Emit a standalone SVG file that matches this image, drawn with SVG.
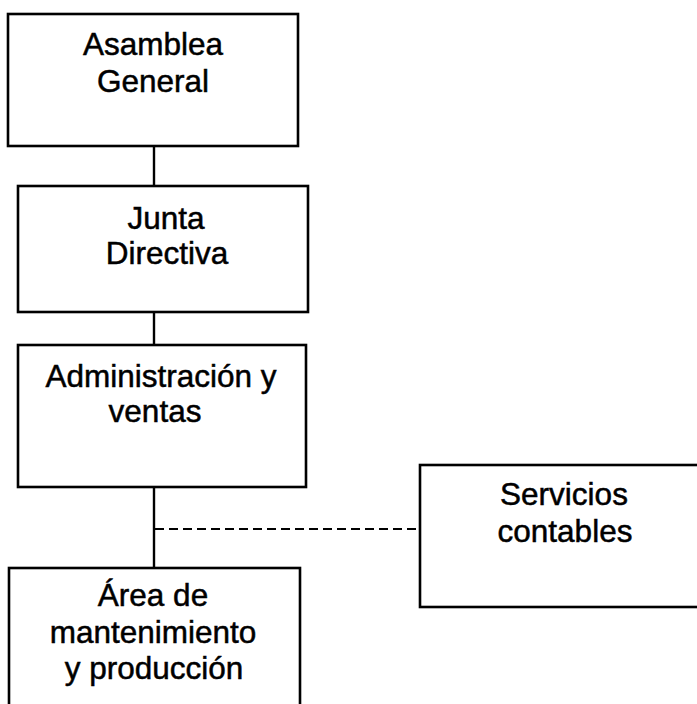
<svg xmlns="http://www.w3.org/2000/svg" width="697" height="704" viewBox="0 0 697 704">
<style>
.box{fill:#fff;stroke:#000;stroke-width:2.6}
.t{font-family:"Liberation Sans",Arial,sans-serif;font-size:31.5px;fill:#000;stroke:#000;stroke-width:0.5;text-anchor:middle}
.ln{stroke:#000;stroke-width:2.4;fill:none}
.dash{stroke:#000;stroke-width:2;fill:none;stroke-dasharray:9 5}
</style>
<rect width="697" height="704" fill="#fff"/>
<g id="connectors">
<line class="ln" x1="154" y1="146" x2="154" y2="186"/>
<line class="ln" x1="154" y1="312" x2="154" y2="345"/>
<line class="ln" x1="154" y1="487" x2="154" y2="568"/>
<line class="dash" x1="155" y1="529" x2="420" y2="529"/>
</g>
<g id="asamblea">
<rect class="box" x="8" y="14" width="290" height="132"/>
<text class="t" x="153" y="55">Asamblea</text>
<text class="t" x="153" y="92">General</text>
</g>
<g id="junta">
<rect class="box" x="18" y="186" width="290" height="126"/>
<text class="t" x="166" y="229">Junta</text>
<text class="t" x="167" y="264">Directiva</text>
</g>
<g id="administracion">
<rect class="box" x="18" y="345" width="288" height="142"/>
<text class="t" x="161" y="387">Administración y</text>
<text class="t" x="155" y="422">ventas</text>
</g>
<g id="area">
<rect class="box" x="9" y="568" width="291" height="150"/>
<text class="t" x="153" y="606">Área de</text>
<text class="t" x="153" y="643">mantenimiento</text>
<text class="t" x="154" y="679">y producción</text>
</g>
<g id="servicios">
<rect class="box" x="420" y="465" width="290" height="142"/>
<text class="t" x="564" y="505">Servicios</text>
<text class="t" x="565" y="542">contables</text>
</g>
</svg>
